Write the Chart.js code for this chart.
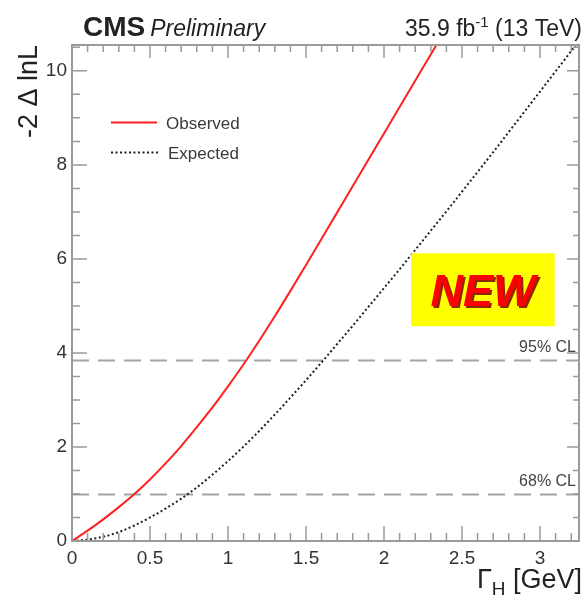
<!DOCTYPE html>
<html>
<head>
<meta charset="utf-8">
<script src="https://cdn.jsdelivr.net/npm/chart.js@4/dist/chart.umd.min.js"></script>
<style>
  html, body { margin: 0; padding: 0; background: #fff; }
  canvas { display: block; }
</style>
</head>
<body>
<canvas id="scan" width="585" height="596"></canvas>
<script>
// Likelihood scan of the Higgs boson width: -2 Δ lnL versus Γ_H (GeV)
const obsWidth = [0, 0.1, 0.2, 0.3, 0.4, 0.5, 0.6, 0.7, 0.8, 0.9, 1.0, 1.1, 1.2,
                  1.3, 1.4, 1.5, 1.6, 1.7, 1.8, 1.9, 2.0, 2.1, 2.2, 2.3, 2.4];
const obsNll   = [0, 0.22, 0.46, 0.72, 1.00, 1.31, 1.65, 2.02, 2.42, 2.84, 3.29, 3.76, 4.26,
                  4.78, 5.32, 5.87, 6.43, 6.99, 7.55, 8.11, 8.67, 9.23, 9.79, 10.35, 10.91];

const expWidth = [0, 0.1, 0.2, 0.3, 0.4, 0.5, 0.6, 0.7, 0.8, 0.9, 1.0, 1.1, 1.2, 1.3, 1.4,
                  1.5, 1.6, 1.7, 1.8, 1.9, 2.0, 2.1, 2.2, 2.3, 2.4, 2.5, 2.6, 2.7, 2.8,
                  2.9, 3.0, 3.1, 3.2, 3.3];
const expNll   = [0, 0.03, 0.09, 0.19, 0.33, 0.50, 0.69, 0.90, 1.14, 1.41, 1.70, 2.01, 2.34, 2.69, 3.05,
                  3.42, 3.80, 4.19, 4.58, 4.98, 5.38, 5.78, 6.19, 6.60, 7.01, 7.43, 7.85, 8.27, 8.70,
                  9.13, 9.56, 9.99, 10.42, 10.85];

// Confidence-level reference lines
const clLevels = [1.0, 3.84];
const clLabels = ['68% CL', '95% CL'];

// Axis ranges and labelled ticks
const xRange = [0, 3.25];
const yRange = [0, 10.55];
const xTickVals = [0, 0.5, 1, 1.5, 2, 2.5, 3];
const yTickVals = [0, 2, 4, 6, 8, 10];

// "NEW" badge extent in data units
const badgeX = [2.174, 3.094];
const badgeY = [4.57, 6.12];

const FONT = '"Liberation Sans", Arial, Helvetica, sans-serif';
const FRAME = '#9a9a9a';

function toPoints(xs, ys) { return xs.map((x, i) => ({ x: x, y: ys[i] })); }

const rootStyle = {
  id: 'rootStyle',
  beforeDatasetsDraw(chart) {
    const ctx = chart.ctx, a = chart.chartArea, ys = chart.scales.y;
    ctx.save();
    ctx.strokeStyle = '#a3a3a3';
    ctx.lineWidth = 2;
    ctx.setLineDash([17, 9]);
    clLevels.forEach((lvl) => {
      const py = Math.round(ys.getPixelForValue(lvl)) + 0.5;
      ctx.beginPath();
      ctx.moveTo(a.left, py);
      ctx.lineTo(a.right, py);
      ctx.stroke();
    });
    ctx.setLineDash([]);
    ctx.fillStyle = '#444';
    ctx.font = '16px ' + FONT;
    ctx.textAlign = 'right';
    ctx.textBaseline = 'alphabetic';
    clLevels.forEach((lvl, i) => {
      const py = ys.getPixelForValue(lvl);
      ctx.fillText(clLabels[i], a.right - 3, py - 8);
    });
    ctx.restore();
  },
  afterDatasetsDraw(chart) {
    const ctx = chart.ctx, a = chart.chartArea, xs = chart.scales.x, ys = chart.scales.y;
    ctx.save();
    // NEW badge
    const bx0 = xs.getPixelForValue(badgeX[0]), bx1 = xs.getPixelForValue(badgeX[1]);
    const by0 = ys.getPixelForValue(badgeY[1]), by1 = ys.getPixelForValue(badgeY[0]);
    ctx.fillStyle = '#ffff00';
    ctx.fillRect(bx0, by0, bx1 - bx0, by1 - by0);
    ctx.font = 'italic bold 45px ' + FONT;
    ctx.textAlign = 'center';
    ctx.textBaseline = 'alphabetic';
    const cx = (bx0 + bx1) / 2, base = by0 + (by1 - by0) * 0.73;
    ctx.fillStyle = '#8a2a00';
    ctx.fillText('NEW', cx + 2, base + 2);
    ctx.fillStyle = '#ff0000';
    ctx.fillText('NEW', cx, base);

    // frame
    ctx.strokeStyle = FRAME;
    ctx.lineWidth = 2;
    ctx.strokeRect(a.left, a.top, a.right - a.left, a.bottom - a.top);

    // inward ticks on all four sides
    ctx.lineWidth = 1.5;
    ctx.beginPath();
    for (let i = 0; i <= 32; i++) {
      const v = i / 10;
      const px = xs.getPixelForValue(v);
      const len = (i % 5 === 0) ? 15 : 8;
      ctx.moveTo(px, a.bottom); ctx.lineTo(px, a.bottom - len);
      const lenTop = (i % 5 === 0) ? 13 : 7;
      ctx.moveTo(px, a.top); ctx.lineTo(px, a.top + lenTop);
    }
    for (let i = 0; i <= 21; i++) {
      const v = i * 0.5;
      const py = ys.getPixelForValue(v);
      const len = (i % 4 === 0) ? 15 : 8;
      ctx.moveTo(a.left, py); ctx.lineTo(a.left + len, py);
      const lenR = (i % 4 === 0) ? 12 : 6;
      ctx.moveTo(a.right, py); ctx.lineTo(a.right - lenR, py);
    }
    ctx.stroke();
    ctx.restore();
  },
  afterDraw(chart) {
    const ctx = chart.ctx, a = chart.chartArea;
    ctx.save();
    ctx.fillStyle = '#222';
    ctx.textBaseline = 'alphabetic';

    // header, left
    ctx.textAlign = 'left';
    ctx.font = 'bold 28px ' + FONT;
    ctx.fillText('CMS', 83, 36);
    const cmsW = ctx.measureText('CMS').width;
    ctx.font = 'italic 23px ' + FONT;
    ctx.fillText('Preliminary', 83 + cmsW + 5, 36);

    // header, right: 35.9 fb^-1 (13 TeV)
    const partA = '35.9 fb', partSup = '-1', partB = ' (13 TeV)';
    ctx.font = '23px ' + FONT;
    const wA = ctx.measureText(partA).width, wB = ctx.measureText(partB).width;
    ctx.font = '15px ' + FONT;
    const wS = ctx.measureText(partSup).width;
    let x0 = 582 - (wA + wS + wB);
    ctx.font = '23px ' + FONT;
    ctx.fillText(partA, x0, 36);
    ctx.font = '15px ' + FONT;
    ctx.fillText(partSup, x0 + wA, 27);
    ctx.font = '23px ' + FONT;
    ctx.fillText(partB, x0 + wA + wS, 36);

    // y title
    ctx.save();
    ctx.translate(37, a.top);
    ctx.rotate(-Math.PI / 2);
    ctx.textAlign = 'right';
    ctx.font = '27px ' + FONT;
    ctx.fillText('-2 \u0394 lnL', 0, 0);
    ctx.restore();

    // x title: Γ_H [GeV]
    ctx.font = '27px ' + FONT;
    const g = '\u0393', tail = ' [GeV]';
    const wG = ctx.measureText(g).width, wT = ctx.measureText(tail).width;
    ctx.font = '19px ' + FONT;
    const wH = ctx.measureText('H').width;
    x0 = 582 - (wG + wH + wT);
    ctx.font = '27px ' + FONT;
    ctx.fillText(g, x0, 588);
    ctx.font = '19px ' + FONT;
    ctx.fillText('H', x0 + wG, 595);
    ctx.font = '27px ' + FONT;
    ctx.fillText(tail, x0 + wG + wH, 588);

    // legend
    ctx.lineWidth = 2;
    ctx.strokeStyle = '#ff2020';
    ctx.beginPath(); ctx.moveTo(111, 122.5); ctx.lineTo(157, 122.5); ctx.stroke();
    ctx.strokeStyle = '#222';
    ctx.setLineDash([2, 2.5]);
    ctx.beginPath(); ctx.moveTo(111, 152.5); ctx.lineTo(158, 152.5); ctx.stroke();
    ctx.setLineDash([]);
    ctx.fillStyle = '#3a3a3a';
    ctx.font = '17px ' + FONT;
    ctx.textAlign = 'left';
    ctx.fillText('Observed', 166, 129);
    ctx.fillText('Expected', 168, 159);
    ctx.restore();
  }
};

new Chart(document.getElementById('scan'), {
  type: 'line',
  data: {
    datasets: [
      {
        label: 'Observed',
        data: toPoints(obsWidth, obsNll),
        borderColor: '#ff2020',
        borderWidth: 2,
        pointRadius: 0,
        cubicInterpolationMode: 'monotone',
        fill: false
      },
      {
        label: 'Expected',
        data: toPoints(expWidth, expNll),
        borderColor: '#222',
        borderWidth: 2,
        borderDash: [2, 2.5],
        pointRadius: 0,
        cubicInterpolationMode: 'monotone',
        fill: false
      }
    ]
  },
  options: {
    responsive: false,
    devicePixelRatio: 1,
    animation: false,
    layout: { padding: { top: 45, right: 6, left: 0, bottom: 0 } },
    plugins: { legend: { display: false }, tooltip: { enabled: false } },
    scales: {
      x: {
        type: 'linear',
        min: xRange[0],
        max: xRange[1],
        grid: { display: false, drawTicks: false },
        border: { display: false },
        afterBuildTicks: (s) => { s.ticks = xTickVals.map(v => ({ value: v })); },
        afterFit: (s) => { s.height = 55; },
        ticks: {
          autoSkip: false,
          maxRotation: 0,
          padding: 6,
          color: '#333',
          font: { family: FONT, size: 19 },
          callback: (v) => String(v)
        }
      },
      y: {
        type: 'linear',
        min: yRange[0],
        max: yRange[1],
        grid: { display: false, drawTicks: false },
        border: { display: false },
        afterBuildTicks: (s) => { s.ticks = yTickVals.map(v => ({ value: v })); },
        afterFit: (s) => { s.width = 72; },
        ticks: {
          autoSkip: false,
          padding: 5,
          color: '#333',
          font: { family: FONT, size: 19 },
          callback: (v) => String(v)
        }
      }
    }
  },
  plugins: [rootStyle]
});
</script>
</body>
</html>
